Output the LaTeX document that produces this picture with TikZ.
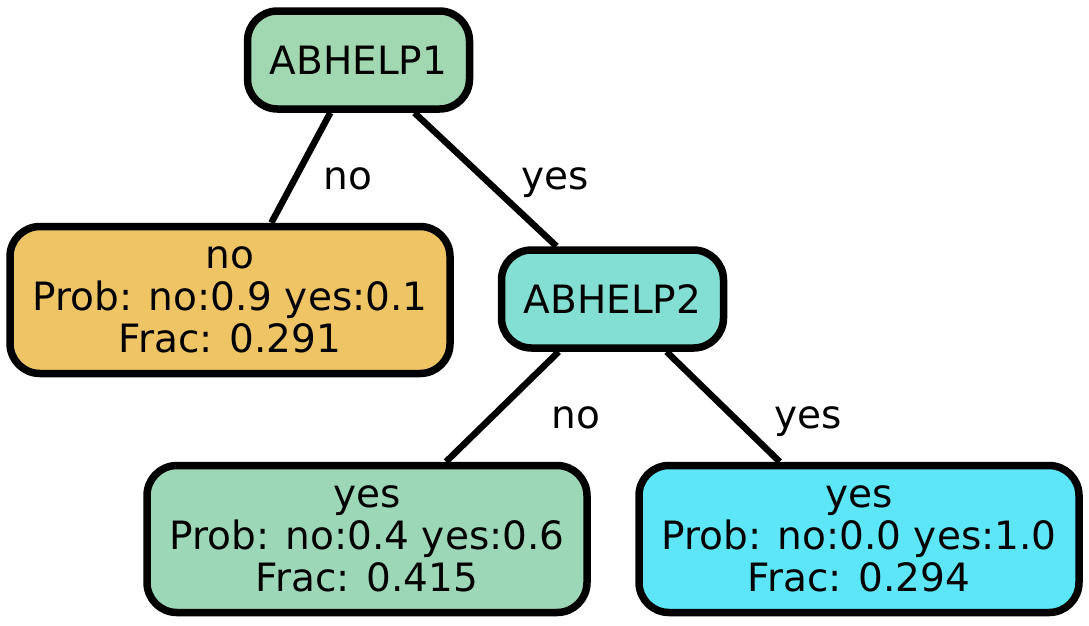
\documentclass[tikz,border=0pt]{standalone}
\usepackage{fontspec}
\setmainfont{DejaVu Sans}
\definecolor{cA}{HTML}{A2D8B1}
\definecolor{cNo}{HTML}{EEC465}
\definecolor{cB}{HTML}{83DFD3}
\definecolor{cY1}{HTML}{9CD8B8}
\definecolor{cY2}{HTML}{5CE6F7}
\tikzset{
  tnode/.style={draw=black, line width=7.5pt, rounded corners=30pt, inner sep=0pt,
    align=center, font=\fontsize{39}{42}\selectfont},
  inner/.style={tnode, minimum width=222pt, minimum height=98pt},
  leaf/.style={tnode, minimum width=440pt, minimum height=147pt},
  edge/.style={line width=6.5pt},
  elabel/.style={anchor=base, font=\fontsize{39}{42}\selectfont, inner sep=0pt}
}
\begin{document}
\begin{tikzpicture}[x=1pt, y=-1pt]
\useasboundingbox (0,0) rectangle (1089,625);
\node[inner, fill=cA] (a1) at (358.5,60) {ABHELP1};
\node[leaf, fill=cNo] (l1) at (230,300) {no\\Prob: no:0.9 yes:0.1\\Frac: 0.291};
\node[inner, fill=cB] (a2) at (612.5,299) {ABHELP2};
\node[leaf, fill=cY1] (l2) at (367,539) {yes\\Prob: no:0.4 yes:0.6\\Frac: 0.415};
\node[leaf, fill=cY2] (l3) at (859,539) {yes\\Prob: no:0.0 yes:1.0\\Frac: 0.294};
\draw[edge] (a1) -- (l1);
\draw[edge] (a1) -- (a2);
\draw[edge] (a2) -- (l2);
\draw[edge] (a2) -- (l3);
\node[elabel] (e1) at (348,189) {no};
\node[elabel] (e2) at (555,189) {yes};
\node[elabel] (e3) at (576,428) {no};
\node[elabel] (e4) at (808,428) {yes};
\end{tikzpicture}
\end{document}
